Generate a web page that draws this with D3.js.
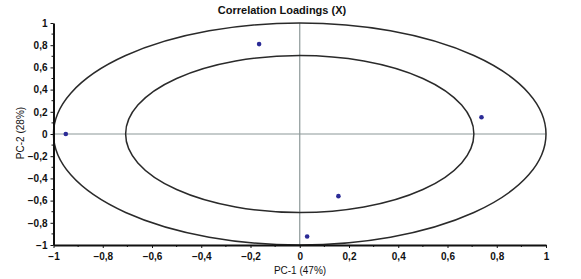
<!DOCTYPE html>
<html>
<head>
<meta charset="utf-8">
<script src="https://cdn.jsdelivr.net/npm/d3@7"></script>
<style>
  body { margin: 0; background: #fff; }
  svg text { font-family: "Liberation Sans", Arial, sans-serif; fill: #111; }
</style>
</head>
<body>
<div id="chart"></div>
<script>
// loadings
const pc1 = [-0.95, -0.165, 0.738, 0.157, 0.03];
const pc2 = [0.0, 0.81, 0.151, -0.56, -0.923];
const xTicks = [-1, -0.8, -0.6, -0.4, -0.2, 0, 0.2, 0.4, 0.6, 0.8, 1];
const yTicks = [-1, -0.8, -0.6, -0.4, -0.2, 0, 0.2, 0.4, 0.6, 0.8, 1];
const minorTicks = [-0.9, -0.7, -0.5, -0.3, -0.1, 0.1, 0.3, 0.5, 0.7, 0.9];
const radii = [1, Math.SQRT1_2];

const width = 581, height = 279;
const svg = d3.select("#chart").append("svg")
  .attr("width", width).attr("height", height);

const x = d3.scaleLinear().domain([-1, 1]).range([53.5, 546]);
const y = d3.scaleLinear().domain([-1, 1]).range([245, 23]);

const fmt = d => (d === 0 ? "0" : d3.format("")(+d.toFixed(1)).replace(".", ","));

// zero lines
svg.append("line")
  .attr("x1", x(-1)).attr("x2", x(1))
  .attr("y1", y(0)).attr("y2", y(0))
  .attr("stroke", "#8c9898").attr("stroke-width", 1.2);
svg.append("line")
  .attr("x1", x(0)).attr("x2", x(0))
  .attr("y1", y(1)).attr("y2", y(-1))
  .attr("stroke", "#8c9898").attr("stroke-width", 1.2);

// correlation circles (drawn as ellipses, axes are not equal scaled)
svg.selectAll("ellipse.ring")
  .data(radii)
  .enter()
  .append("ellipse")
  .classed("ring", true)
  .attr("cx", x(0)).attr("cy", y(0))
  .attr("rx", r => x(r) - x(0))
  .attr("ry", r => y(0) - y(r))
  .attr("fill", "none")
  .attr("stroke", "#2a2a2a")
  .attr("stroke-width", 1.5);

// axes
const xAxis = d3.axisBottom(x).tickValues(xTicks).tickFormat(fmt).tickSize(3).tickSizeOuter(0);
const yAxis = d3.axisLeft(y).tickValues(yTicks).tickFormat(fmt).tickSize(3).tickSizeOuter(0);

const gx = svg.append("g").attr("transform", `translate(0,${y(-1)})`).call(xAxis);
const gy = svg.append("g").attr("transform", `translate(${x(-1)},0)`).call(yAxis);

[gx, gy].forEach(g => {
  g.select(".domain").attr("stroke", "#111").attr("stroke-width", 2);
  g.selectAll(".tick line").attr("stroke", "#111");
  g.selectAll(".tick text").style("font-size", "10px").style("font-weight", "bold").attr("fill", "#222");
});
gx.selectAll(".tick text").attr("dy", "0.9em");

svg.append("g").attr("transform", `translate(0,${y(-1)})`)
  .selectAll("line").data(minorTicks).enter().append("line")
  .attr("x1", d => x(d)).attr("x2", d => x(d))
  .attr("y1", 0).attr("y2", 2)
  .attr("stroke", "#111");
svg.append("g").attr("transform", `translate(${x(-1)},0)`)
  .selectAll("line").data(minorTicks).enter().append("line")
  .attr("y1", d => y(d)).attr("y2", d => y(d))
  .attr("x1", 0).attr("x2", -2)
  .attr("stroke", "#111");

// points
svg.selectAll("circle.pt")
  .data(pc1.map((v, i) => [v, pc2[i]]))
  .enter()
  .append("circle")
  .classed("pt", true)
  .attr("cx", d => x(d[0]))
  .attr("cy", d => y(d[1]))
  .attr("r", 2.3)
  .attr("fill", "#2b2b96");

// titles
svg.append("text")
  .attr("x", 282).attr("y", 14)
  .attr("text-anchor", "middle")
  .style("font-size", "11px").style("font-weight", "bold")
  .text("Correlation Loadings (X)");

svg.append("text")
  .attr("x", 300).attr("y", 274)
  .attr("text-anchor", "middle")
  .style("font-size", "10px")
  .text("PC-1 (47%)");

svg.append("text")
  .attr("transform", "rotate(-90)")
  .attr("x", -133).attr("y", 24)
  .attr("text-anchor", "middle")
  .style("font-size", "10px")
  .text("PC-2 (28%)");
</script>
</body>
</html>
